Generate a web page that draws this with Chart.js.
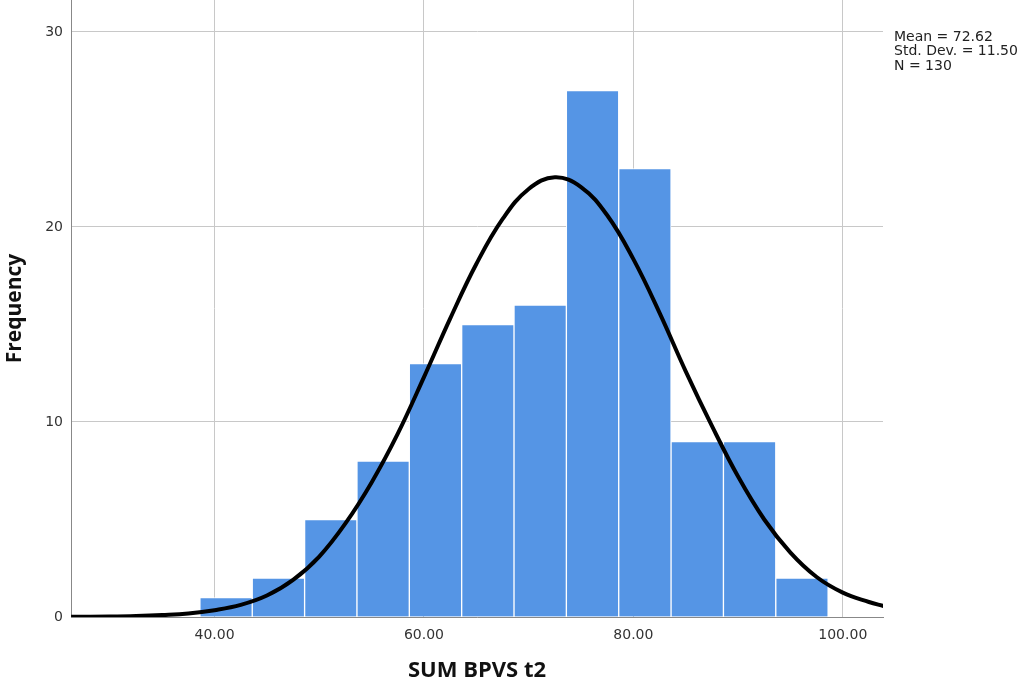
<!DOCTYPE html>
<html>
<head>
<meta charset="utf-8">
<title>SUM BPVS t2 histogram</title>
<script src="https://cdn.jsdelivr.net/npm/chart.js@4.4.1/dist/chart.umd.min.js"></script>
<style>
    html, body { margin: 0; padding: 0; background: #fff; }
    #wrap { width: 1033px; height: 687px; }
</style>
</head>
<body>
<div id="wrap"><canvas id="histChart" width="1033" height="687"></canvas></div>
<script>
// histogram bins (centre of each bin) and counts
const binCenters = [41.1, 46.1, 51.1, 56.1, 61.1, 66.1, 71.1, 76.1, 81.1, 86.1, 91.1, 96.1];
const frequencies = [1, 2, 5, 8, 13, 15, 16, 27, 23, 9, 9, 2];

// normal curve, every 2.5 units
const curveX = [26.3, 30, 32.5, 35, 37.5, 40, 42.5, 45, 47.5, 50, 52.5, 55, 57.5, 60, 62.5, 65, 67.5, 70, 72.5, 75, 77.5, 80, 82.5, 85, 87.5, 90, 92.5, 95, 97.5, 100, 102.5, 103.9];
const curveY = [0.01, 0.025, 0.05, 0.1, 0.18, 0.35, 0.62, 1.1, 1.9, 3.1, 4.8, 6.9, 9.4, 12.3, 15.3, 18.1, 20.4, 21.95, 22.55, 22.05, 20.6, 18.35, 15.6, 12.6, 9.8, 7.2, 5.0, 3.3, 2.05, 1.25, 0.77, 0.56];

const xTicks = [40, 60, 80, 100];
const yTicks = [0, 10, 20, 30];
const statLines = ['Mean = 72.62', 'Std. Dev. = 11.50', 'N = 130'];
const xTitle = 'SUM BPVS t2';
const yTitle = 'Frequency';

window.addEventListener('DOMContentLoaded', function () {
    const ctx = document.getElementById('histChart').getContext('2d');

    // stats box on the right, like the SPSS output
    const statsBox = {
        id: 'statsBox',
        afterDraw(chart) {
            const c = chart.ctx;
            c.save();
            c.font = '14px "DejaVu Sans"';
            c.fillStyle = '#222';
            c.textAlign = 'left';
            c.textBaseline = 'middle';
            statLines.forEach((t, i) => c.fillText(t, chart.chartArea.right + 11, 37 + i * 14.5));
            c.restore();
        }
    };

    new Chart(ctx, {
        type: 'bar',
        data: {
            datasets: [
                {
                    type: 'line',
                    data: curveX.map((x, i) => ({ x: x, y: curveY[i] })),
                    borderColor: '#000',
                    borderWidth: 4,
                    pointRadius: 0,
                    fill: false,
                    tension: 0.4,
                    order: 0
                },
                {
                    type: 'bar',
                    data: binCenters.map((x, i) => ({ x: x, y: frequencies[i] })),
                    backgroundColor: '#5595e5',
                    borderColor: '#ffffff',
                    borderWidth: 1,
                    barPercentage: 1,
                    categoryPercentage: 1,
                    order: 1
                }
            ]
        },
        options: {
            responsive: false,
            animation: false,
            devicePixelRatio: 1,
            layout: { padding: { top: 0, right: 150, bottom: 0, left: 0 } },
            plugins: { legend: { display: false }, tooltip: { enabled: false } },
            scales: {
                x: {
                    type: 'linear',
                    min: 26.29,
                    max: 103.84,
                    offset: false,
                    afterBuildTicks: s => { s.ticks = xTicks.map(v => ({ value: v })); },
                    afterFit: s => { s.height = 70; s.paddingLeft = 0; s.paddingRight = 0; },
                    border: { display: true, color: '#888', width: 1 },
                    grid: { color: '#c8c8c8', lineWidth: 1, drawTicks: false, offset: false },
                    ticks: {
                        padding: 10,
                        color: '#333',
                        font: { family: '"DejaVu Sans"', size: 14 },
                        maxRotation: 0,
                        autoSkip: false,
                        callback: v => Number(v).toFixed(2)
                    },
                    title: {
                        display: true,
                        text: xTitle,
                        color: '#111',
                        font: { family: '"Open Sans"', size: 22, weight: 'bold' },
                        padding: { top: 0, bottom: 3 }
                    }
                },
                y: {
                    min: 0,
                    max: 31.64,
                    afterBuildTicks: s => { s.ticks = yTicks.map(v => ({ value: v })); },
                    afterFit: s => { s.width = 71; s.paddingTop = 0; s.paddingBottom = 0; },
                    border: { display: true, color: '#888', width: 1 },
                    grid: { color: '#c8c8c8', lineWidth: 1, drawTicks: false },
                    ticks: {
                        padding: 8,
                        color: '#333',
                        font: { family: '"DejaVu Sans"', size: 14 }
                    },
                    title: {
                        display: true,
                        text: yTitle,
                        color: '#111',
                        font: { family: '"Open Sans"', size: 21, weight: 'bold' },
                        padding: { top: 2, bottom: 0 }
                    }
                }
            }
        },
        plugins: [statsBox]
    });
});
</script>
</body>
</html>
